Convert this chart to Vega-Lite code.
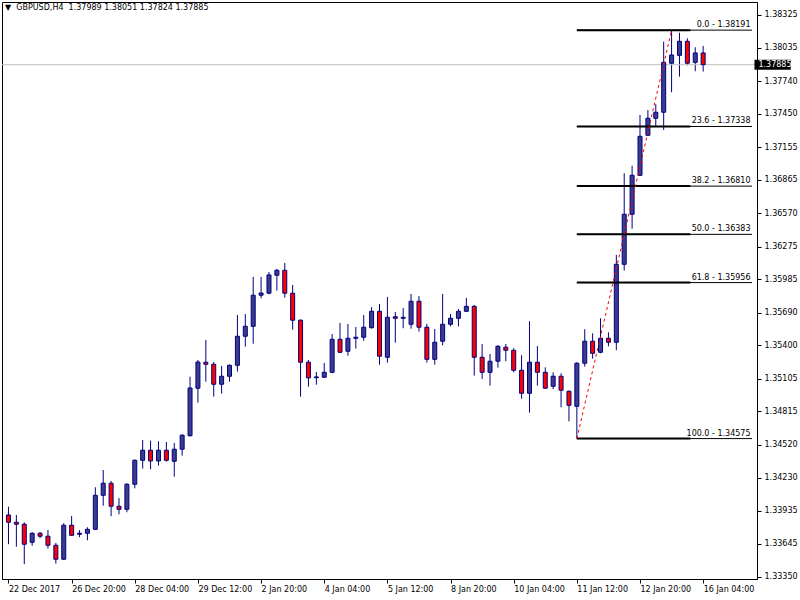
{
  "$schema": "https://vega.github.io/schema/vega-lite/v6.json",
  "autosize": {"type": "none"},
  "width": 755,
  "height": 577,
  "padding": {"left": 2, "top": 2, "right": 43, "bottom": 21},
  "background": "white",
  "title": {
    "text": "▼\u00a0\u00a0GBPUSD,H4\u00a0\u00a01.37989 1.38051 1.37824 1.37885",
    "anchor": "start",
    "frame": "group",
    "baseline": "bottom",
    "offset": -18,
    "dx": 3,
    "font": "DejaVu Sans",
    "fontSize": 8,
    "fontWeight": "normal",
    "color": "black"
  },
  "config": {
    "view": {"stroke": "black", "strokeWidth": 1},
    "axis": {
      "grid": false,
      "labelFont": "DejaVu Sans",
      "labelFontSize": 8,
      "labelColor": "black",
      "tickColor": "black",
      "domainColor": "black",
      "tickSize": 4,
      "labelOverlap": false
    }
  },
  "datasets": {
    "candles": [
      {"i":0,"o":1.33899,"h":1.33972,"l":1.33640,"c":1.33834},
      {"i":1,"o":1.33834,"h":1.33899,"l":1.33618,"c":1.33817},
      {"i":2,"o":1.33817,"h":1.33834,"l":1.33463,"c":1.33640},
      {"i":3,"o":1.33657,"h":1.33746,"l":1.33627,"c":1.33737},
      {"i":4,"o":1.33737,"h":1.33749,"l":1.33693,"c":1.33711},
      {"i":5,"o":1.33711,"h":1.33766,"l":1.33601,"c":1.33631},
      {"i":6,"o":1.33631,"h":1.33651,"l":1.33468,"c":1.33507},
      {"i":7,"o":1.33507,"h":1.33826,"l":1.33501,"c":1.33808},
      {"i":8,"o":1.33808,"h":1.33890,"l":1.33713,"c":1.33719},
      {"i":9,"o":1.33728,"h":1.33764,"l":1.33702,"c":1.33737},
      {"i":10,"o":1.33737,"h":1.33790,"l":1.33675,"c":1.33772},
      {"i":11,"o":1.33772,"h":1.34144,"l":1.33766,"c":1.34073},
      {"i":12,"o":1.34073,"h":1.34297,"l":1.33981,"c":1.34180},
      {"i":13,"o":1.34180,"h":1.34200,"l":1.33888,"c":1.33976},
      {"i":14,"o":1.33976,"h":1.34050,"l":1.33905,"c":1.33949},
      {"i":15,"o":1.33949,"h":1.34180,"l":1.33923,"c":1.34171},
      {"i":16,"o":1.34171,"h":1.34390,"l":1.34135,"c":1.34383},
      {"i":17,"o":1.34383,"h":1.34563,"l":1.34309,"c":1.34472},
      {"i":18,"o":1.34472,"h":1.34557,"l":1.34304,"c":1.34377},
      {"i":19,"o":1.34377,"h":1.34551,"l":1.34335,"c":1.34472},
      {"i":20,"o":1.34472,"h":1.34545,"l":1.34371,"c":1.34383},
      {"i":21,"o":1.34374,"h":1.34536,"l":1.34238,"c":1.34481},
      {"i":22,"o":1.34481,"h":1.34613,"l":1.34424,"c":1.34605},
      {"i":23,"o":1.34601,"h":1.35123,"l":1.34592,"c":1.35023},
      {"i":24,"o":1.35021,"h":1.35271,"l":1.34893,"c":1.35253},
      {"i":25,"o":1.35251,"h":1.35448,"l":1.35079,"c":1.35233},
      {"i":26,"o":1.35233,"h":1.35253,"l":1.34946,"c":1.35056},
      {"i":27,"o":1.35056,"h":1.35218,"l":1.34973,"c":1.35127},
      {"i":28,"o":1.35127,"h":1.35231,"l":1.35079,"c":1.35224},
      {"i":29,"o":1.35224,"h":1.35669,"l":1.35168,"c":1.35481},
      {"i":30,"o":1.35481,"h":1.35678,"l":1.35389,"c":1.35569},
      {"i":31,"o":1.35569,"h":1.36006,"l":1.35415,"c":1.35844},
      {"i":32,"o":1.35844,"h":1.36006,"l":1.35817,"c":1.35864},
      {"i":33,"o":1.35862,"h":1.36050,"l":1.35853,"c":1.36024},
      {"i":34,"o":1.36021,"h":1.36077,"l":1.35885,"c":1.36065},
      {"i":35,"o":1.36065,"h":1.36130,"l":1.35823,"c":1.35862},
      {"i":36,"o":1.35862,"h":1.35935,"l":1.35539,"c":1.35623},
      {"i":37,"o":1.35623,"h":1.35630,"l":1.34946,"c":1.35251},
      {"i":38,"o":1.35251,"h":1.35271,"l":1.35035,"c":1.35112},
      {"i":39,"o":1.35114,"h":1.35165,"l":1.35052,"c":1.35121},
      {"i":40,"o":1.35118,"h":1.35244,"l":1.35112,"c":1.35162},
      {"i":41,"o":1.35162,"h":1.35501,"l":1.35153,"c":1.35454},
      {"i":42,"o":1.35454,"h":1.35599,"l":1.35333,"c":1.35339},
      {"i":43,"o":1.35348,"h":1.35590,"l":1.35309,"c":1.35463},
      {"i":44,"o":1.35463,"h":1.35563,"l":1.35371,"c":1.35472},
      {"i":45,"o":1.35472,"h":1.35669,"l":1.35442,"c":1.35561},
      {"i":46,"o":1.35557,"h":1.35738,"l":1.35548,"c":1.35702},
      {"i":47,"o":1.35702,"h":1.35767,"l":1.35229,"c":1.35304},
      {"i":48,"o":1.35295,"h":1.35829,"l":1.35247,"c":1.35649},
      {"i":49,"o":1.35654,"h":1.35696,"l":1.35424,"c":1.35640},
      {"i":50,"o":1.35640,"h":1.35731,"l":1.35552,"c":1.35649},
      {"i":51,"o":1.35587,"h":1.35855,"l":1.35548,"c":1.35791},
      {"i":52,"o":1.35791,"h":1.35838,"l":1.35522,"c":1.35561},
      {"i":53,"o":1.35561,"h":1.35590,"l":1.35247,"c":1.35277},
      {"i":54,"o":1.35277,"h":1.35545,"l":1.35229,"c":1.35428},
      {"i":55,"o":1.35437,"h":1.35855,"l":1.35401,"c":1.35587},
      {"i":56,"o":1.35587,"h":1.35678,"l":1.35569,"c":1.35640},
      {"i":57,"o":1.35640,"h":1.35722,"l":1.35569,"c":1.35702},
      {"i":58,"o":1.35702,"h":1.35820,"l":1.35696,"c":1.35746},
      {"i":59,"o":1.35746,"h":1.35758,"l":1.35132,"c":1.35295},
      {"i":60,"o":1.35295,"h":1.35413,"l":1.35103,"c":1.35162},
      {"i":61,"o":1.35162,"h":1.35324,"l":1.35044,"c":1.35260},
      {"i":62,"o":1.35260,"h":1.35404,"l":1.35203,"c":1.35392},
      {"i":63,"o":1.35384,"h":1.35413,"l":1.35260,"c":1.35357},
      {"i":64,"o":1.35357,"h":1.35375,"l":1.35162,"c":1.35180},
      {"i":65,"o":1.35180,"h":1.35313,"l":1.34928,"c":1.34976},
      {"i":66,"o":1.34976,"h":1.35614,"l":1.34805,"c":1.35251},
      {"i":67,"o":1.35251,"h":1.35395,"l":1.35044,"c":1.35162},
      {"i":68,"o":1.35162,"h":1.35206,"l":1.35015,"c":1.35021},
      {"i":69,"o":1.35038,"h":1.35162,"l":1.35012,"c":1.35127},
      {"i":70,"o":1.35127,"h":1.35153,"l":1.34852,"c":1.35003},
      {"i":71,"o":1.34994,"h":1.35001,"l":1.34728,"c":1.34870},
      {"i":72,"o":1.34861,"h":1.35251,"l":1.34575,"c":1.35242},
      {"i":73,"o":1.35242,"h":1.35543,"l":1.35212,"c":1.35437},
      {"i":74,"o":1.35437,"h":1.35507,"l":1.35283,"c":1.35330},
      {"i":75,"o":1.35339,"h":1.35640,"l":1.35330,"c":1.35463},
      {"i":76,"o":1.35463,"h":1.35516,"l":1.35392,"c":1.35428},
      {"i":77,"o":1.35428,"h":1.36201,"l":1.35357,"c":1.36118},
      {"i":78,"o":1.36118,"h":1.36924,"l":1.36062,"c":1.36561},
      {"i":79,"o":1.36561,"h":1.36991,"l":1.36433,"c":1.36906},
      {"i":80,"o":1.36906,"h":1.37440,"l":1.36900,"c":1.37251},
      {"i":81,"o":1.37260,"h":1.37484,"l":1.37254,"c":1.37411},
      {"i":82,"o":1.37411,"h":1.37535,"l":1.37340,"c":1.37464},
      {"i":83,"o":1.37464,"h":1.38089,"l":1.37307,"c":1.37906},
      {"i":84,"o":1.37898,"h":1.38191,"l":1.37641,"c":1.37971},
      {"i":85,"o":1.37968,"h":1.38168,"l":1.37779,"c":1.38092},
      {"i":86,"o":1.38092,"h":1.38119,"l":1.37880,"c":1.37898},
      {"i":87,"o":1.37906,"h":1.38039,"l":1.37827,"c":1.37989},
      {"i":88,"o":1.37989,"h":1.38051,"l":1.37824,"c":1.37885}
    ],
    "fib": [
      {"p":1.38191,"label":"0.0 - 1.38191"},
      {"p":1.37338,"label":"23.6 - 1.37338"},
      {"p":1.36810,"label":"38.2 - 1.36810"},
      {"p":1.36383,"label":"50.0 - 1.36383"},
      {"p":1.35956,"label":"61.8 - 1.35956"},
      {"p":1.34575,"label":"100.0 - 1.34575"}
    ],
    "trend": [
      {"i":72,"p":1.34575},
      {"i":84,"p":1.38191}
    ],
    "last": [
      {"p":1.37885,"label":"1.37885"}
    ]
  },
  "layer": [
    {
      "data": {"name": "candles"},
      "mark": {"type": "rule", "color": "#000080", "strokeWidth": 1},
      "encoding": {
        "x": {"field": "i", "type": "quantitative", "title": null,
              "scale": {"domain": [-0.1875, 94.1875], "nice": false, "zero": false},
              "axis": {
                "orient": "bottom",
                "values": [0, 8, 16, 24, 32, 40, 48, 56, 64, 72, 80, 88],
                "tickCount": 40,
                "labelAlign": "left",
                "labelPadding": 2,
                "labelFlush": false,
                "labelOverlap": false,
                "labelBound": false,
                "labelExpr": "['22 Dec 2017','26 Dec 20:00','28 Dec 04:00','29 Dec 12:00','2 Jan 20:00','4 Jan 04:00','5 Jan 12:00','8 Jan 20:00','10 Jan 04:00','11 Jan 12:00','12 Jan 20:00','16 Jan 04:00'][round(datum.value/8)]"
              }},
        "y": {"field": "l", "type": "quantitative", "title": null,
              "scale": {"domain": [1.33332, 1.3844], "nice": false, "zero": false},
              "axis": {
                "orient": "right",
                "values": [1.3335, 1.33645, 1.33935, 1.3423, 1.3452, 1.34815, 1.35105, 1.354, 1.3569, 1.35985, 1.36275, 1.3657, 1.36865, 1.37155, 1.3745, 1.3774, 1.38035, 1.38325],
                "tickCount": 40,
                "format": ".5f",
                "labelPadding": 3,
                "labelOverlap": false,
                "labelFlush": false,
                "labelBound": false,
                "labelBaseline": "middle"
              }},
        "y2": {"field": "h"}
      }
    },
    {
      "data": {"name": "last"},
      "mark": {"type": "rule", "color": "#c0c0c0", "strokeWidth": 1},
      "encoding": {
        "y": {"field": "p", "type": "quantitative", "title": null,
              "scale": {"domain": [1.33332, 1.3844], "nice": false, "zero": false}}
      }
    },
    {
      "data": {"name": "candles"},
      "mark": {"type": "bar", "width": 4, "stroke": "#000080", "strokeWidth": 1},
      "encoding": {
        "x": {"field": "i", "type": "quantitative", "title": null,
              "scale": {"domain": [-0.1875, 94.1875], "nice": false, "zero": false}},
        "y": {"field": "o", "type": "quantitative", "title": null,
              "scale": {"domain": [1.33332, 1.3844], "nice": false, "zero": false}},
        "y2": {"field": "c"},
        "fill": {"condition": {"test": "datum.c >= datum.o", "value": "#3c3c8c"}, "value": "#ff0000"},
        "fillOpacity": {"value": 1}
      }
    },
    {
      "data": {"name": "fib"},
      "mark": {"type": "rule", "color": "black", "strokeWidth": 1},
      "encoding": {
        "x": {"datum": 72, "type": "quantitative",
              "scale": {"domain": [-0.1875, 94.1875], "nice": false, "zero": false}},
        "x2": {"datum": 94.1875},
        "y": {"field": "p", "type": "quantitative", "title": null,
              "scale": {"domain": [1.33332, 1.3844], "nice": false, "zero": false}}
      }
    },
    {
      "data": {"name": "fib"},
      "mark": {"type": "rule", "color": "black", "strokeWidth": 2},
      "encoding": {
        "x": {"datum": 72, "type": "quantitative",
              "scale": {"domain": [-0.1875, 94.1875], "nice": false, "zero": false}},
        "x2": {"datum": 86.375},
        "y": {"field": "p", "type": "quantitative", "title": null,
              "scale": {"domain": [1.33332, 1.3844], "nice": false, "zero": false}}
      }
    },
    {
      "data": {"name": "fib"},
      "mark": {"type": "text", "align": "right", "baseline": "bottom", "dy": -1, "font": "DejaVu Sans", "fontSize": 8, "color": "black"},
      "encoding": {
        "x": {"datum": 94, "type": "quantitative",
              "scale": {"domain": [-0.1875, 94.1875], "nice": false, "zero": false}},
        "y": {"field": "p", "type": "quantitative", "title": null,
              "scale": {"domain": [1.33332, 1.3844], "nice": false, "zero": false}},
        "text": {"field": "label"}
      }
    },
    {
      "data": {"name": "trend"},
      "mark": {"type": "line", "color": "#ff0000", "strokeWidth": 1, "strokeDash": [3, 3]},
      "encoding": {
        "x": {"field": "i", "type": "quantitative", "title": null,
              "scale": {"domain": [-0.1875, 94.1875], "nice": false, "zero": false}},
        "y": {"field": "p", "type": "quantitative", "title": null,
              "scale": {"domain": [1.33332, 1.3844], "nice": false, "zero": false}}
      }
    },
    {
      "data": {"name": "last"},
      "mark": {"type": "rect", "color": "black"},
      "encoding": {
        "x": {"datum": 94.5, "type": "quantitative",
              "scale": {"domain": [-0.1875, 94.1875], "nice": false, "zero": false}},
        "x2": {"datum": 99.1},
        "y": {"datum": 1.37929, "type": "quantitative",
              "scale": {"domain": [1.33332, 1.3844], "nice": false, "zero": false}},
        "y2": {"datum": 1.37841}
      }
    },
    {
      "data": {"name": "last"},
      "mark": {"type": "text", "align": "left", "baseline": "middle", "font": "DejaVu Sans", "fontSize": 8, "color": "white"},
      "encoding": {
        "x": {"datum": 95.0, "type": "quantitative",
              "scale": {"domain": [-0.1875, 94.1875], "nice": false, "zero": false}},
        "y": {"field": "p", "type": "quantitative", "title": null,
              "scale": {"domain": [1.33332, 1.3844], "nice": false, "zero": false}},
        "text": {"field": "label"}
      }
    }
  ]
}
